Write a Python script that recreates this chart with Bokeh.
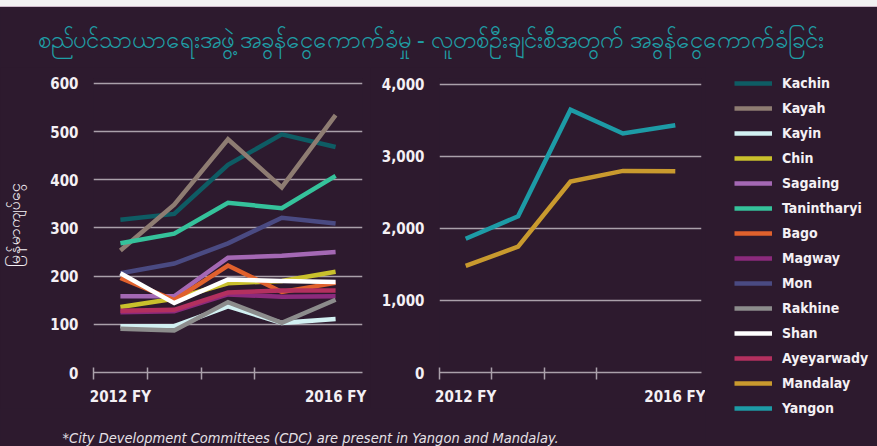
from bokeh.plotting import figure
from bokeh.layouts import column, row
from bokeh.models import (Range1d, FixedTicker, NumeralTickFormatter, Legend,
                          LegendItem, Label, Spacer)
from bokeh.embed import file_html
from bokeh.resources import INLINE

# ---------------- data ----------------
years = ["2012 FY", "2013 FY", "2014 FY", "2015 FY", "2016 FY"]

kachin = [317, 329, 431, 494, 468]
kayah = [253, 348, 484, 384, 534]
kayin = [96, 96, 137, 103, 111]
chin = [136, 153, 185, 190, 209]
sagaing = [158, 158, 238, 242, 250]
tanintharyi = [268, 288, 352, 341, 408]
bago = [196, 150, 222, 167, 186]
magway = [125, 127, 162, 157, 158]
mon = [206, 226, 268, 321, 309]
rakhine = [91, 87, 146, 103, 151]
shan = [206, 144, 193, 190, 188]
ayeyarwady = [128, 130, 166, 170, 170]
mandalay = [1480, 1747, 2653, 2800, 2795]
yangon = [1857, 2170, 3650, 3320, 3434]

left_ticks = [0, 100, 200, 300, 400, 500, 600]
right_ticks = [0, 1000, 2000, 3000, 4000]

title_text = "စည်ပင်သာယာရေးအဖွဲ့ အခွန်ငွေကောက်ခံမှု - လူတစ်ဦးချင်းစီအတွက် အခွန်ငွေကောက်ခံခြင်း"
y_label = "မြန်မာကျပ်ငွေ"
footnote = "*City Development  Committees (CDC) are present in Yangon and Mandalay."

left_series = [
    ("Kachin", kachin, "#0e5c64"),
    ("Kayah", kayah, "#8e7c72"),
    ("Kayin", kayin, "#d2f0f2"),
    ("Chin", chin, "#c9c02c"),
    ("Sagaing", sagaing, "#a468b4"),
    ("Tanintharyi", tanintharyi, "#35c29b"),
    ("Bago", bago, "#e0612d"),
    ("Magway", magway, "#8b2a7c"),
    ("Mon", mon, "#4a4a82"),
    ("Rakhine", rakhine, "#8c8c8c"),
    ("Shan", shan, "#ffffff"),
    ("Ayeyarwady", ayeyarwady, "#b3305f"),
]
right_series = [
    ("Mandalay", mandalay, "#c99a2e"),
    ("Yangon", yangon, "#1d9ba6"),
]

# ---------------- style ----------------
BG = "#2d1a2e"
GRID = "#aaa0aa"
TXT = "#f4f0f4"
NARROW = "DejaVu Sans Condensed, DejaVu Sans, sans-serif"
LW = 4.5
BGSTYLE = {"background-color": BG}

x_idx = list(range(len(years)))
bounds = [i - 0.5 for i in x_idx[:-1]]
label_map = {x_idx[0]: years[0], x_idx[-1]: years[-1]}


def blank_fig(width, height, **kw):
    p = figure(width=width, height=height, output_backend="svg",
               toolbar_location=None, min_border=0, min_border_left=0,
               min_border_right=0, min_border_top=0, min_border_bottom=0,
               styles=BGSTYLE, **kw)
    p.background_fill_color = BG
    p.border_fill_color = BG
    p.outline_line_color = None
    p.axis.visible = False
    p.grid.visible = False
    return p


def base_fig(width, height, y_end, yticks, border_left, border_right, fmt=None):
    p = figure(width=width, height=height, output_backend="svg",
               toolbar_location=None,
               x_range=Range1d(-0.5, len(years) - 0.5),
               y_range=Range1d(0, y_end),
               min_border_left=border_left, min_border_right=border_right,
               min_border_top=11, min_border_bottom=35, styles=BGSTYLE)
    p.background_fill_color = BG
    p.border_fill_color = BG
    p.outline_line_color = None
    p.xgrid.visible = False
    p.ygrid.ticker = FixedTicker(ticks=yticks)
    p.ygrid.grid_line_color = GRID
    p.ygrid.grid_line_width = 1.5

    xa = p.xaxis[0]
    xa.ticker = FixedTicker(ticks=[x_idx[0], x_idx[-1]], minor_ticks=bounds)
    xa.major_label_overrides = label_map
    xa.axis_line_color = GRID
    xa.axis_line_width = 1.5
    xa.major_tick_line_color = None
    xa.major_tick_in = 0
    xa.major_tick_out = 0
    xa.minor_tick_line_color = GRID
    xa.minor_tick_line_width = 1.5
    xa.minor_tick_in = 5
    xa.minor_tick_out = 7
    xa.major_label_standoff = 8
    xa.major_label_text_color = TXT
    xa.major_label_text_font = NARROW
    xa.major_label_text_font_style = "bold"
    xa.major_label_text_font_size = "15px"

    ya = p.yaxis[0]
    ya.ticker = FixedTicker(ticks=yticks)
    if fmt is not None:
        ya.formatter = fmt
    ya.axis_line_color = None
    ya.major_tick_line_color = None
    ya.major_tick_in = 0
    ya.major_tick_out = 0
    ya.minor_tick_line_color = None
    ya.minor_tick_in = 0
    ya.minor_tick_out = 0
    ya.major_label_standoff = 15
    ya.major_label_text_color = TXT
    ya.major_label_text_font = NARROW
    ya.major_label_text_font_style = "bold"
    ya.major_label_text_font_size = "15px"
    return p


# left chart
pl = base_fig(370, 341, 610, left_ticks, 92, 8)
pl.yaxis[0].axis_label = y_label
pl.yaxis[0].axis_label_text_color = TXT
pl.yaxis[0].axis_label_text_font = "Noto Sans"
pl.yaxis[0].axis_label_text_font_style = "normal"
pl.yaxis[0].axis_label_text_font_size = "16px"
pl.yaxis[0].axis_label_standoff = 22
for name, vals, col in left_series:
    pl.line(x_idx, vals, line_color=col, line_width=LW, line_join="miter")

# right chart
pr = base_fig(335, 341, 4083, right_ticks, 69, 4, NumeralTickFormatter(format="0,0"))
for name, vals, col in right_series:
    pr.line(x_idx, vals, line_color=col, line_width=LW, line_join="miter")

# legend panel (its sample renderers sit outside the visible range)
pg = blank_fig(172, 379, x_range=Range1d(0, 1), y_range=Range1d(-20, -10))
items = []
for name, vals, col in left_series + right_series:
    r = pg.line(x_idx, vals, line_color=col, line_width=LW)
    items.append(LegendItem(label=name, renderers=[r]))
leg = Legend(items=items, location=(29, 28), padding=0, margin=0,
             glyph_width=38, glyph_height=20, label_height=20, spacing=5,
             label_standoff=10, border_line_color=None,
             background_fill_alpha=0,
             label_text_color=TXT, label_text_font=NARROW,
             label_text_font_style="bold", label_text_font_size="14px")
pg.add_layout(leg)

# title panel
pt = blank_fig(877, 60)
pt.add_layout(Label(x=37, y=29, x_units="screen", y_units="screen",
                    text=title_text, text_color="#1f9fa6",
                    text_font="Noto Sans", text_font_size="24px",
                    text_baseline="middle"))

# footnote panel
pf = blank_fig(705, 38)
pf.add_layout(Label(x=62, y=9, x_units="screen", y_units="screen",
                    text=footnote, text_color="#e6e1e6",
                    text_font=NARROW, text_font_style="italic",
                    text_font_size="14.5px", text_baseline="alphabetic"))

strip = Spacer(width=877, height=6, styles={"background-color": "#f1f1f1"})
strip_line = Spacer(width=877, height=1, styles={"background-color": "#cdb9c9"})

layout = column(strip, strip_line, pt,
                row(column(row(pl, pr, spacing=0, styles=BGSTYLE), pf,
                           spacing=0, styles=BGSTYLE),
                    pg, spacing=0, styles=BGSTYLE),
                spacing=0, styles=BGSTYLE)

open("out.html", "w").write(file_html(layout, INLINE))
